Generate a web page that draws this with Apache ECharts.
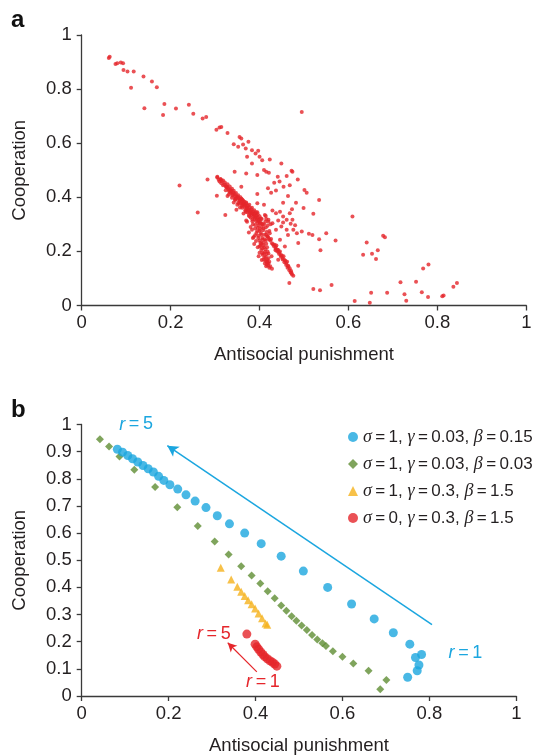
<!DOCTYPE html>
<html>
<head>
<meta charset="utf-8">
<script src="https://cdn.jsdelivr.net/npm/echarts@6/dist/echarts.min.js"></script>
<style>
html,body{margin:0;padding:0;background:#fff;}
#chart{width:541px;height:756px;}
</style>
</head>
<body>
<div id="chart"></div>
<script>
// ---------- Panel a data (antisocial punishment, cooperation) ----------
var aSparse = [
  [0.061,0.915],[0.063,0.920],[0.076,0.893],[0.080,0.896],[0.088,0.898],[0.093,0.896],
  [0.094,0.871],[0.103,0.865],[0.117,0.865],[0.111,0.805],[0.139,0.847],[0.158,0.828],
  [0.169,0.807],[0.141,0.729],[0.186,0.745],[0.183,0.704],[0.212,0.728],[0.241,0.742],
  [0.251,0.709],[0.272,0.691],[0.280,0.697],[0.303,0.650],[0.310,0.658],[0.314,0.660],
  [0.328,0.638],[0.495,0.715],[0.355,0.623],[0.359,0.617],[0.352,0.587],[0.363,0.595],
  [0.369,0.580],[0.342,0.596],[0.375,0.605],[0.383,0.574],[0.372,0.550],[0.391,0.562],
  [0.397,0.572],[0.400,0.550],[0.406,0.537],[0.423,0.540],[0.383,0.525],[0.410,0.501],
  [0.415,0.494],[0.421,0.491],[0.395,0.482],[0.449,0.525],[0.472,0.498],[0.474,0.494],
  [0.441,0.476],[0.461,0.479],[0.486,0.466],[0.433,0.454],[0.445,0.458],[0.454,0.439],
  [0.468,0.445],[0.501,0.427],[0.506,0.417],[0.419,0.433],[0.395,0.412],[0.426,0.417],
  [0.437,0.425],[0.464,0.405],[0.482,0.380],[0.534,0.390],[0.521,0.339],[0.499,0.360],
  [0.453,0.380],[0.473,0.356],[0.474,0.317],[0.495,0.274],[0.511,0.265],[0.519,0.261],
  [0.550,0.267],[0.534,0.245],[0.571,0.240],[0.487,0.231],[0.537,0.204],[0.487,0.147],
  [0.467,0.083],[0.521,0.061],[0.536,0.056],[0.562,0.076],[0.609,0.329],[0.641,0.233],
  [0.633,0.188],[0.653,0.191],[0.666,0.204],[0.662,0.172],[0.678,0.258],[0.682,0.252],
  [0.614,0.017],[0.651,0.047],[0.648,0.010],[0.687,0.047],[0.717,0.086],[0.726,0.042],
  [0.730,0.018],[0.752,0.088],[0.765,0.049],[0.768,0.137],[0.780,0.152],[0.779,0.031],
  [0.811,0.034],[0.814,0.037],[0.836,0.069],[0.844,0.083],[0.220,0.444],[0.261,0.344],
  [0.283,0.466],[0.304,0.406],[0.323,0.335],[0.305,0.476],[0.313,0.466],[0.328,0.405],
  [0.344,0.494],[0.370,0.488]
];
var aBand = [
  [0.305,0.473],[0.312,0.468],[0.318,0.462],[0.310,0.458],[0.322,0.455],[0.328,0.448],
  [0.318,0.445],[0.333,0.440],[0.326,0.437],[0.338,0.432],[0.330,0.428],[0.342,0.424],
  [0.336,0.420],[0.347,0.416],[0.340,0.411],[0.352,0.408],[0.345,0.403],[0.357,0.400],
  [0.350,0.395],[0.361,0.392],[0.355,0.387],[0.366,0.384],[0.358,0.379],[0.370,0.377],
  [0.362,0.372],[0.374,0.369],[0.366,0.365],[0.378,0.362],[0.370,0.357],[0.382,0.355],
  [0.374,0.350],[0.386,0.347],[0.378,0.343],[0.390,0.340],[0.382,0.336],[0.393,0.333],
  [0.386,0.328],[0.396,0.325],[0.389,0.320],[0.399,0.318],[0.392,0.312],[0.402,0.310],
  [0.395,0.305],[0.405,0.302],[0.360,0.368],[0.368,0.352],[0.352,0.380],[0.376,0.335],
  [0.384,0.318],[0.372,0.345],[0.345,0.390],[0.338,0.398],[0.356,0.362],[0.364,0.340],
  [0.380,0.325],[0.350,0.372],[0.331,0.410],[0.324,0.426],[0.342,0.381],
  [0.308,0.465],[0.315,0.460],[0.314,0.452],[0.321,0.447],[0.325,0.441],[0.329,0.434],
  [0.334,0.428],[0.337,0.424],[0.341,0.418],[0.344,0.412],[0.348,0.404],[0.351,0.401],
  [0.354,0.396],[0.356,0.390],[0.360,0.384],[0.363,0.379],[0.365,0.374],[0.368,0.370],
  [0.371,0.364],[0.373,0.360],[0.376,0.355],[0.379,0.350],[0.381,0.345],[0.384,0.340],
  [0.387,0.336],[0.389,0.331],[0.391,0.326],[0.394,0.320],[0.397,0.314],[0.399,0.309],
  [0.401,0.303],[0.363,0.388],[0.359,0.395],[0.370,0.381],[0.377,0.372],[0.383,0.361],
  [0.388,0.352],[0.392,0.345],[0.396,0.337],[0.400,0.330],[0.403,0.322],[0.334,0.417],
  [0.339,0.407],[0.346,0.396],[0.354,0.376],[0.361,0.361],[0.369,0.347],[0.377,0.330],
  [0.384,0.311],[0.390,0.298]
];
var aLobe = [
  [0.398,0.295],[0.405,0.290],[0.410,0.300],[0.401,0.283],[0.408,0.278],[0.414,0.288],
  [0.395,0.275],[0.403,0.268],[0.411,0.262],[0.398,0.258],[0.406,0.250],[0.412,0.245],
  [0.400,0.240],[0.408,0.232],[0.415,0.228],[0.402,0.222],[0.410,0.215],[0.404,0.205],
  [0.412,0.198],[0.407,0.188],[0.414,0.180],[0.409,0.170],[0.416,0.163],[0.412,0.155],
  [0.419,0.148],[0.422,0.140],[0.428,0.136],[0.415,0.145],[0.418,0.160],[0.390,0.260],
  [0.385,0.250],[0.392,0.238],[0.396,0.215],[0.400,0.195],[0.420,0.175],[0.418,0.200],
  [0.385,0.300],[0.390,0.285],[0.418,0.255],[0.422,0.275],[0.425,0.300],[0.420,0.310],
  [0.415,0.320],[0.405,0.320],[0.412,0.335],[0.395,0.345],[0.380,0.290],[0.372,0.310],
  [0.376,0.270],[0.388,0.227],[0.398,0.182],[0.405,0.168],
  [0.396,0.288],[0.400,0.276],[0.404,0.262],[0.407,0.243],[0.404,0.228],[0.409,0.223],
  [0.406,0.212],[0.413,0.208],[0.410,0.192],[0.416,0.190],[0.411,0.178],[0.417,0.170],
  [0.413,0.165],[0.420,0.155],[0.416,0.152],[0.424,0.145],[0.393,0.268],[0.397,0.250],
  [0.402,0.232],[0.414,0.240],[0.417,0.215],[0.420,0.192],[0.407,0.300],[0.413,0.310],
  [0.418,0.295],[0.409,0.286],[0.416,0.272]
];
var aLine = [
  [0.415,0.262],[0.420,0.250],[0.424,0.240],[0.428,0.230],[0.432,0.220],[0.436,0.210],
  [0.440,0.200],[0.444,0.190],[0.448,0.180],[0.452,0.170],[0.456,0.160],[0.460,0.150],
  [0.463,0.140],[0.467,0.130],[0.470,0.122],[0.473,0.115],[0.476,0.110],[0.426,0.246],
  [0.434,0.225],[0.442,0.205],[0.450,0.185],[0.458,0.165],[0.465,0.145],[0.471,0.128],
  [0.438,0.222],[0.446,0.200],[0.454,0.182],[0.462,0.162],
  [0.418,0.256],[0.422,0.245],[0.430,0.226],[0.436,0.216],[0.440,0.206],[0.444,0.196],
  [0.448,0.187],[0.452,0.176],[0.456,0.168],[0.460,0.157],[0.464,0.147],[0.468,0.137],
  [0.472,0.120]
];
var aCluster = [
  [0.429,0.351],[0.437,0.341],[0.446,0.347],[0.453,0.329],[0.461,0.317],[0.442,0.314],
  [0.429,0.304],[0.449,0.292],[0.461,0.280],[0.470,0.302],[0.480,0.297],[0.476,0.280],
  [0.414,0.331],[0.420,0.317],[0.437,0.280],[0.423,0.267],[0.468,0.341],[0.453,0.307],
  [0.484,0.267],[0.464,0.261],[0.446,0.243],[0.457,0.218],[0.436,0.204],[0.427,0.182],
  [0.442,0.169],[0.410,0.372],[0.395,0.378],[0.359,0.439],[0.345,0.393],[0.348,0.354],
  [0.382,0.341],[0.370,0.314],[0.383,0.280],[0.387,0.253],[0.400,0.218],[0.406,0.194],
  [0.422,0.162],[0.325,0.439],[0.332,0.421]
];

// ---------- Panel b data ----------
var seriesNames = ['σ=1, γ=0.03, β=0.15','σ=1, γ=0.03, β=0.03','σ=1, γ=0.3, β=1.5','σ=0, γ=0.3, β=1.5'];
var bBlue = [
  [0.082,0.909],[0.094,0.898],[0.106,0.886],[0.117,0.874],[0.129,0.862],[0.141,0.849],
  [0.153,0.837],[0.165,0.825],[0.177,0.809],[0.189,0.794],[0.203,0.778],[0.221,0.762],
  [0.240,0.741],[0.261,0.718],[0.286,0.694],[0.312,0.664],[0.340,0.634],[0.375,0.600],
  [0.413,0.561],[0.459,0.515],[0.510,0.460],[0.566,0.400],[0.621,0.339],[0.673,0.284],
  [0.717,0.233],[0.755,0.191],[0.782,0.153],[0.768,0.142],[0.776,0.114],[0.772,0.093],
  [0.750,0.069]
];
var bGreen = [
  [0.042,0.946],[0.063,0.919],[0.087,0.882],[0.121,0.833],[0.169,0.770],[0.220,0.695],
  [0.267,0.626],[0.306,0.569],[0.338,0.521],[0.367,0.478],[0.391,0.444],[0.411,0.414],
  [0.428,0.386],[0.444,0.360],[0.459,0.333],[0.471,0.314],[0.483,0.294],[0.494,0.277],
  [0.506,0.260],[0.518,0.243],[0.530,0.225],[0.542,0.208],[0.554,0.194],[0.562,0.184],
  [0.578,0.165],[0.600,0.145],[0.625,0.120],[0.660,0.093],[0.701,0.059],[0.687,0.025]
];
var bYellow = [
  [0.320,0.472],[0.344,0.429],[0.358,0.402],[0.367,0.384],[0.375,0.368],[0.383,0.353],
  [0.391,0.338],[0.399,0.322],[0.407,0.304],[0.415,0.286],[0.423,0.267],[0.427,0.262]
];
var bRed = [
  [0.380,0.228],[0.399,0.191],[0.403,0.181],[0.407,0.172],[0.412,0.162],[0.417,0.153],
  [0.421,0.145],[0.427,0.137],[0.433,0.130],[0.439,0.124],[0.444,0.118],[0.449,0.110]
];
// annotation arrows and labels (data space)
var blueArrow = [[0.806,0.263],[0.197,0.922]];
var redArrow = [[0.403,0.089],[0.336,0.196]];
var blueLabels = [{t:'5',c:[0.125,1.0]},{t:'1',c:[0.883,0.157]}];
var redLabels = [{t:'5',c:[0.304,0.230]},{t:'1',c:[0.417,0.053]}];

var BLUE='#1ba6df', GREEN='#5f8d33', YELLOW='#f5b21b', RED='#e5262b';
var TXT='#231f20', AX='#3a3a3a';
var FONT='"Liberation Sans", Arial, sans-serif';
var FS=18.5;

function axisCommon(){
  return {
    axisLine:{show:true,lineStyle:{color:AX,width:1.3}},
    axisTick:{show:true,inside:false,length:5,lineStyle:{color:AX,width:1.3}},
    splitLine:{show:false},
    axisLabel:{color:TXT,fontSize:FS,fontFamily:FONT},
    nameTextStyle:{color:TXT,fontSize:FS,fontFamily:FONT}
  };
}
function ax(extra){ var o=axisCommon(); for(var k in extra){ if(typeof extra[k]==='object' && o[k] && !Array.isArray(extra[k])){ for(var j in extra[k]) o[k][j]=extra[k][j]; } else o[k]=extra[k]; } return o; }

function rLabel(items,color){
  return items.map(function(it){
    return {coord:it.c, value:it.t, label:{formatter:'{i|r}\u2009=\u2009'+it.t, color:color}};
  });
}

var chart = echarts.init(document.getElementById('chart'), null, {renderer:'canvas'});
var option = {
  animation:false,
  backgroundColor:'#fff',
  grid:[
    {left:81.7, top:35, width:444.6, height:270.5},
    {left:81.7, top:424.5, width:434.6, height:271.5}
  ],
  xAxis:[
    ax({gridIndex:0,type:'value',min:0,max:1,interval:0.2,name:'Antisocial punishment',nameLocation:'middle',nameGap:40,
        axisLabel:{margin:8}}),
    ax({gridIndex:1,type:'value',min:0,max:1,interval:0.2,name:'Antisocial punishment',nameLocation:'middle',nameGap:40,
        axisLabel:{margin:8}})
  ],
  yAxis:[
    ax({gridIndex:0,type:'value',min:0,max:1,interval:0.2,name:'Cooperation',nameLocation:'middle',nameGap:52,
        axisLabel:{margin:10}}),
    ax({gridIndex:1,type:'value',min:0,max:1,interval:0.1,name:'Cooperation',nameLocation:'middle',nameGap:52,
        axisLabel:{margin:10}})
  ],
  legend:{
    data:seriesNames,
    orient:'vertical', left:343, top:423,
    itemWidth:10, itemHeight:10, itemGap:9,
    textStyle:{color:TXT,fontSize:17,fontFamily:FONT,lineHeight:18,
      rich:{i:{fontFamily:'"Liberation Serif","DejaVu Serif",serif',fontStyle:'italic',fontSize:18,color:TXT}}},
    formatter:function(n){ return n.replace(/=/g,'\u2009=\u2009').replace(/([σγβ])/g,'{i|$1}'); }
  },
  graphic:[
    {type:'text',left:11,top:8,style:{text:'a',font:'bold 24px '+FONT,fill:'#111'}},
    {type:'text',left:11,top:398,style:{text:'b',font:'bold 24px '+FONT,fill:'#111'}}
  ],
  series:[
    {type:'scatter',xAxisIndex:0,yAxisIndex:0,symbolSize:4,itemStyle:{color:RED},
      data:aSparse.concat(aBand,aLobe,aLine,aCluster)},
    {name:seriesNames[1],type:'scatter',xAxisIndex:1,yAxisIndex:1,symbol:'diamond',symbolSize:8,itemStyle:{color:GREEN},data:bGreen},
    {name:seriesNames[0],type:'scatter',xAxisIndex:1,yAxisIndex:1,symbol:'circle',symbolSize:9,itemStyle:{color:BLUE},data:bBlue,
      markLine:{silent:true,symbol:['none','arrow'],symbolSize:[9,11],label:{show:false},
        lineStyle:{color:BLUE,width:1.5,type:'solid'},
        data:[[{coord:blueArrow[0]},{coord:blueArrow[1]}]]},
      markPoint:{symbol:'rect',symbolSize:1,itemStyle:{color:'rgba(0,0,0,0)'},
        label:{show:true,position:'inside',fontSize:18,fontFamily:FONT,color:BLUE,
          rich:{i:{fontStyle:'italic',fontSize:18,fontFamily:FONT,color:BLUE}}},
        data:rLabel(blueLabels,BLUE)}},
    {name:seriesNames[2],type:'scatter',xAxisIndex:1,yAxisIndex:1,symbol:'triangle',symbolSize:8,itemStyle:{color:YELLOW},data:bYellow},
    {name:seriesNames[3],type:'scatter',xAxisIndex:1,yAxisIndex:1,symbol:'circle',symbolSize:9,itemStyle:{color:RED},data:bRed,
      markLine:{silent:true,symbol:['none','arrow'],symbolSize:[7,9],label:{show:false},
        lineStyle:{color:RED,width:1.2,type:'solid'},
        data:[[{coord:redArrow[0]},{coord:redArrow[1]}]]},
      markPoint:{symbol:'rect',symbolSize:1,itemStyle:{color:'rgba(0,0,0,0)'},
        label:{show:true,position:'inside',fontSize:18,fontFamily:FONT,color:RED,
          rich:{i:{fontStyle:'italic',fontSize:18,fontFamily:FONT,color:RED}}},
        data:rLabel(redLabels,RED)}}
  ]
};
chart.setOption(option);
</script>
</body>
</html>
